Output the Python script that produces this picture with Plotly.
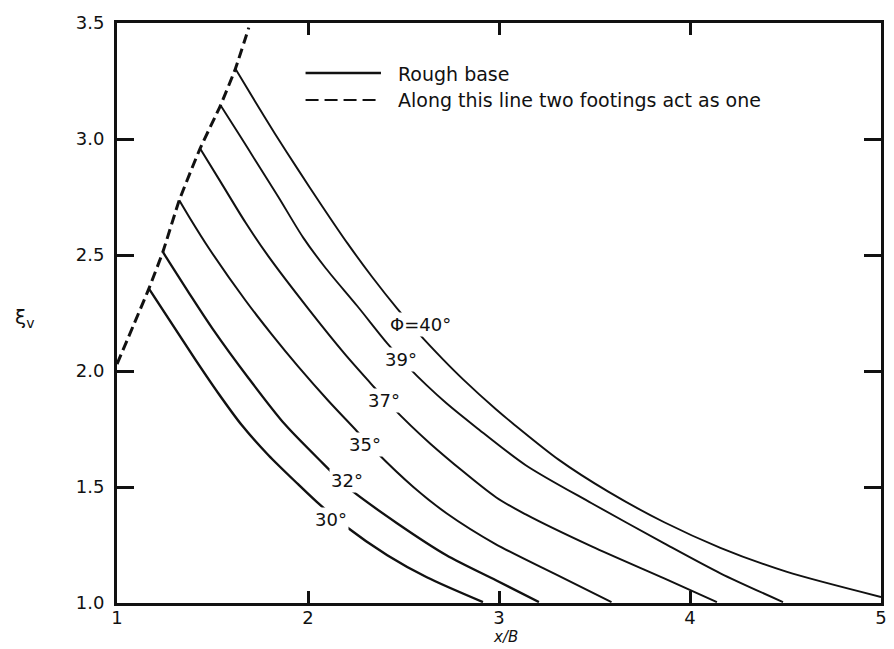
import plotly.graph_objects as go

# ---------------- data ----------------
x40 = [1.620, 1.724, 1.827, 1.948, 2.069, 2.207, 2.337, 2.466, 2.579, 2.708, 2.812, 2.984, 3.071,
       3.312, 3.572, 3.865, 4.159, 4.504, 5.000]
y40 = [3.303, 3.161, 3.023, 2.868, 2.717, 2.550, 2.404, 2.270, 2.162, 2.049, 1.964, 1.835, 1.775,
       1.618, 1.480, 1.348, 1.238, 1.135, 1.026]

x39 = [1.542, 1.637, 1.724, 1.845, 1.974, 2.093, 2.259, 2.415, 2.527, 2.622, 2.725, 2.881, 3.140,
       3.485, 3.865, 4.159, 4.487]
y39 = [3.145, 3.023, 2.908, 2.750, 2.576, 2.443, 2.279, 2.119, 2.016, 1.938, 1.861, 1.757, 1.594,
       1.430, 1.257, 1.128, 1.004]

x37 = [1.435, 1.544, 1.672, 1.793, 2.000, 2.190, 2.328, 2.432, 2.639, 2.984, 3.140, 3.485, 3.865, 4.141]
y37 = [2.959, 2.813, 2.641, 2.494, 2.270, 2.076, 1.947, 1.852, 1.688, 1.456, 1.382, 1.244, 1.106, 1.004]

x35 = [1.326, 1.378, 1.482, 1.672, 1.810, 1.948, 2.104, 2.242, 2.354, 2.553, 2.725, 2.984, 3.295, 3.589]
y35 = [2.736, 2.664, 2.528, 2.305, 2.158, 2.020, 1.874, 1.753, 1.654, 1.499, 1.387, 1.253, 1.124, 1.004]

x32 = [1.240, 1.378, 1.499, 1.689, 1.879, 2.078, 2.207, 2.466, 2.725, 2.984, 3.209]
y32 = [2.513, 2.335, 2.184, 1.969, 1.770, 1.602, 1.499, 1.344, 1.206, 1.098, 1.004]

x30 = [1.167, 1.275, 1.413, 1.534, 1.654, 1.793, 1.948, 2.043, 2.190, 2.415, 2.622, 2.916]
y30 = [2.355, 2.219, 2.046, 1.900, 1.766, 1.637, 1.512, 1.438, 1.335, 1.206, 1.111, 1.004]

x_sep = [1.00, 1.167, 1.24, 1.326, 1.435, 1.542, 1.62, 1.69]
y_sep = [2.03, 2.355, 2.513, 2.736, 2.959, 3.145, 3.303, 3.48]

curve_names = ["Φ=40°", "39°", "37°", "35°", "32°", "30°"]
curve_x = [x40, x39, x37, x35, x32, x30]
curve_y = [y40, y39, y37, y35, y32, y30]

x_ticks = [1, 2, 3, 4, 5]
y_ticks = [1.0, 1.5, 2.0, 2.5, 3.0, 3.5]
y_tick_text = ["1.0", "1.5", "2.0", "2.5", "3.0", "3.5"]

legend_texts = ["Rough base", "Along this line two footings act as one"]

# label anchor positions (layout, data coords)
label_pos = [(2.59, 2.20), (2.487, 2.051), (2.399, 1.874), (2.300, 1.684), (2.202, 1.529), (2.119, 1.361)]

FONT = "DejaVu Sans"
INK = "#111111"

fig = go.Figure()

widths = [1.9, 1.9, 2.0, 2.0, 2.3, 2.4]
for name, xs, ys, w in zip(curve_names, curve_x, curve_y, widths):
    fig.add_trace(go.Scatter(x=xs, y=ys, mode="lines", name=name,
                             line=dict(color=INK, width=w, shape="spline", smoothing=0.8),
                             showlegend=False, hoverinfo="skip"))

fig.add_trace(go.Scatter(x=x_sep, y=y_sep, mode="lines", name="sep",
                         line=dict(color=INK, width=3, dash="10px,5px", shape="spline", smoothing=0.4),
                         showlegend=False, hoverinfo="skip"))

annotations = []
for name, (lx, ly) in zip(curve_names, label_pos):
    annotations.append(dict(x=lx, y=ly, xref="x", yref="y", text=name, showarrow=False,
                            font=dict(family=FONT, size=18, color=INK),
                            bgcolor="white", borderpad=1, xanchor="center", yanchor="middle"))

# manual legend
annotations.append(dict(x=0.365, y=0.9127, xref="paper", yref="paper", text=legend_texts[0],
                        showarrow=False, xanchor="left", yanchor="middle",
                        font=dict(family=FONT, size=19, color=INK)))
annotations.append(dict(x=0.365, y=0.8672, xref="paper", yref="paper", text=legend_texts[1],
                        showarrow=False, xanchor="left", yanchor="middle",
                        font=dict(family=FONT, size=19, color=INK)))

# axis titles
annotations.append(dict(x=-0.121, y=0.491, xref="paper", yref="paper", text="ξ<sub>v</sub>",
                        showarrow=False, xanchor="center", yanchor="middle",
                        font=dict(family=FONT, size=20, color=INK)))
annotations.append(dict(x=0.508, y=-0.0775, xref="paper", yref="paper", text="<i>x/B</i>",
                        showarrow=False, xanchor="center", yanchor="bottom",
                        font=dict(family=FONT, size=15, color=INK)))

shapes = [
    dict(type="line", xref="paper", yref="paper", x0=0.2468, x1=0.3455, y0=0.9138, y1=0.9138,
         line=dict(color=INK, width=2.5)),
    dict(type="line", xref="paper", yref="paper", x0=0.2468, x1=0.3455, y0=0.8672, y1=0.8672,
         line=dict(color=INK, width=2, dash="13px,6px")),
]

fig.update_layout(
    width=894, height=649,
    margin=dict(l=117, r=7, t=23, b=46),
    paper_bgcolor="white", plot_bgcolor="white",
    annotations=annotations, shapes=shapes,
    showlegend=False,
    font=dict(family=FONT, color=INK),
)

fig.update_xaxes(range=[1, 5], tickvals=x_ticks, ticks="inside", ticklen=12, tickwidth=2.5,
                 tickcolor=INK, showline=True, linewidth=3, linecolor=INK, mirror="ticks",
                 showgrid=False, zeroline=False, ticklabelstandoff=-4,
                 tickfont=dict(family=FONT, size=18, color=INK))
fig.update_yaxes(range=[1, 3.5], tickvals=y_ticks, ticktext=y_tick_text, ticks="inside", ticklen=17,
                 tickwidth=2.5, tickcolor=INK, showline=True, linewidth=3, linecolor=INK,
                 mirror="ticks", showgrid=False, zeroline=False, ticklabelstandoff=6,
                 tickfont=dict(family=FONT, size=18, color=INK))

fig.write_html("out.html")
